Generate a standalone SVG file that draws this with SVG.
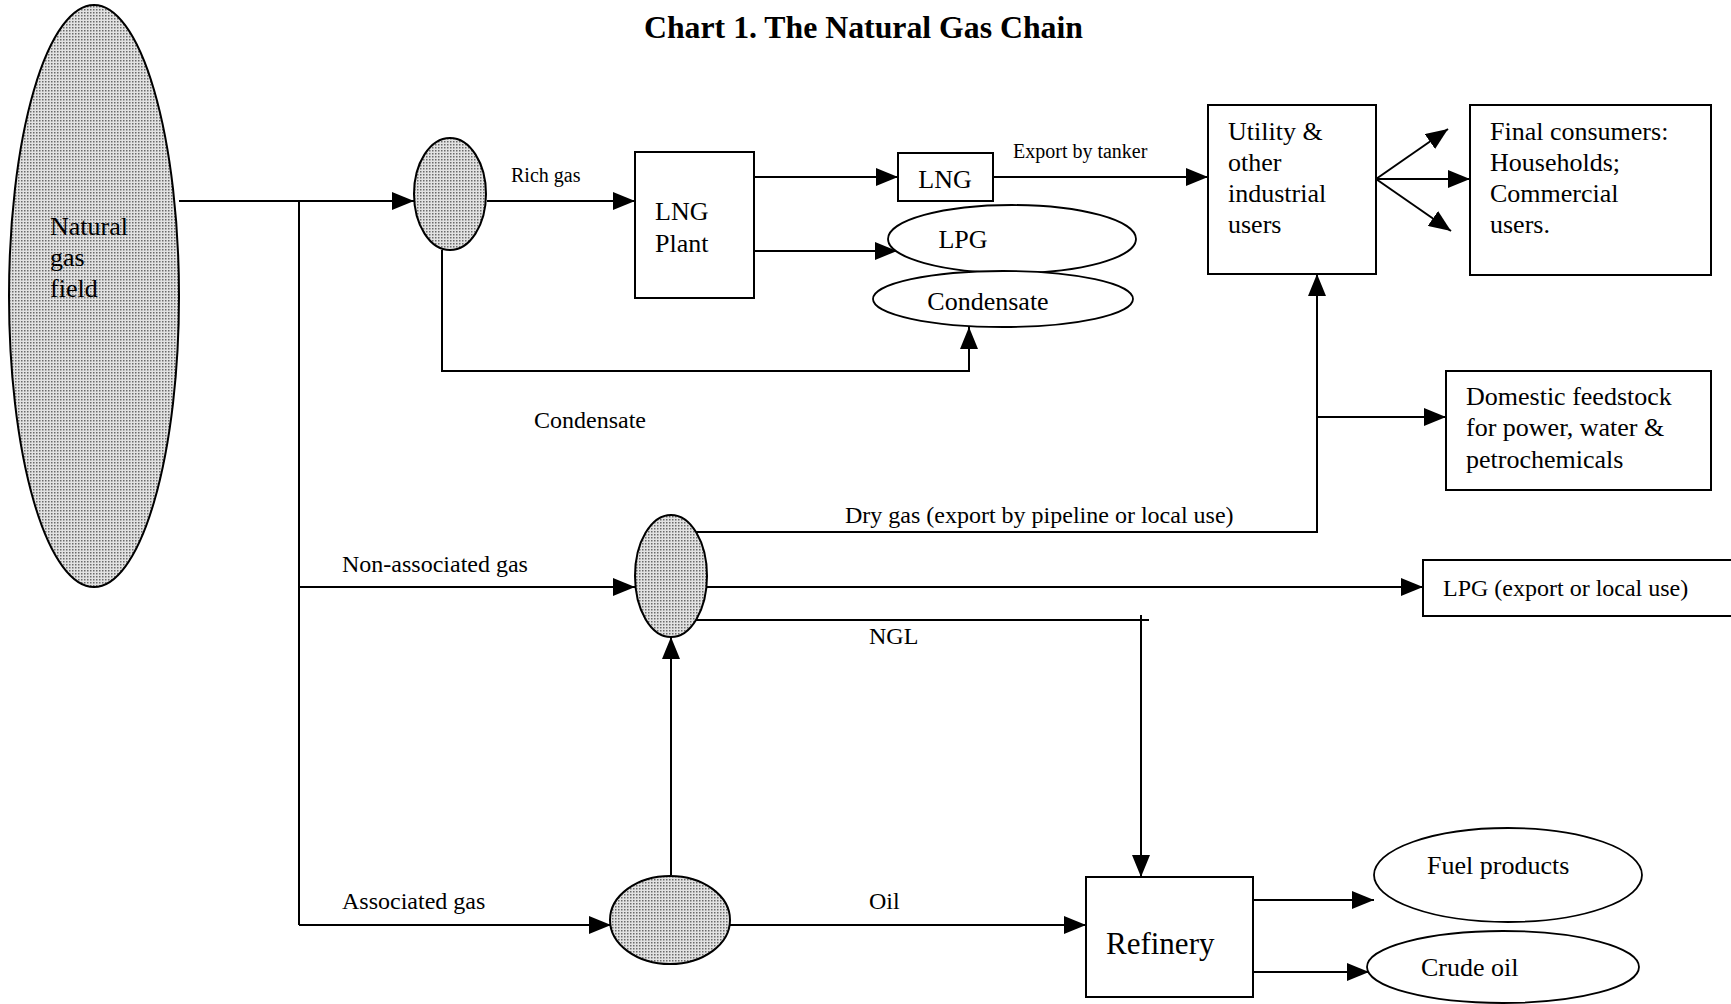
<svg xmlns="http://www.w3.org/2000/svg" width="1731" height="1004" viewBox="0 0 1731 1004">
<style>
text{font-family:"Liberation Serif","Times New Roman",serif;fill:#000}
.t{font-size:26px}
.s{font-size:24px}
.xs{font-size:20px}
.box{fill:#fff;stroke:#000;stroke-width:2}
.ell{fill:#fff;stroke:#000;stroke-width:1.8}
.dot{fill:url(#dots);stroke:#000;stroke-width:2}
.c{fill:none;stroke:#000;stroke-width:2}
</style>
<defs>
<pattern id="dots" width="3" height="3" patternUnits="userSpaceOnUse">
<rect width="3" height="3" fill="#e2e2e2"/>
<rect width="1.5" height="1.5" fill="#6a6a6a"/>
</pattern>
<marker id="ah" markerWidth="22" markerHeight="18" refX="22" refY="9" orient="auto" markerUnits="userSpaceOnUse">
<path d="M0,0 L22,9 L0,18 z" fill="#000"/>
</marker>
</defs>
<rect width="1731" height="1004" fill="#fff"/>
<text x="644" y="38" textLength="439" lengthAdjust="spacingAndGlyphs" style="font-size:31px;font-weight:bold">Chart 1. The Natural Gas Chain</text>

<g id="connectors">
<path class="c" d="M179,201 H414" marker-end="url(#ah)"/>
<path class="c" d="M299,201 V925"/>
<path class="c" d="M487,201 H635" marker-end="url(#ah)"/>
<path class="c" d="M754,177 H898" marker-end="url(#ah)"/>
<path class="c" d="M993,177 H1208" marker-end="url(#ah)"/>
<path class="c" d="M754,251 H897" marker-end="url(#ah)"/>
<path class="c" d="M442,250 V371 H969 V327" marker-end="url(#ah)"/>
<path class="c" d="M1376,179 L1448,129" marker-end="url(#ah)"/>
<path class="c" d="M1376,179 H1470" marker-end="url(#ah)"/>
<path class="c" d="M1376,179 L1451,231" marker-end="url(#ah)"/>
<path class="c" d="M693,532 H1317 V274" marker-end="url(#ah)"/>
<path class="c" d="M1317,417 H1446" marker-end="url(#ah)"/>
<path class="c" d="M299,587 H635" marker-end="url(#ah)"/>
<path class="c" d="M707,587 H1423" marker-end="url(#ah)"/>
<path class="c" d="M687,620 H1149"/>
<path class="c" d="M1141,615 V877" marker-end="url(#ah)"/>
<path class="c" d="M671,875 V637" marker-end="url(#ah)"/>
<path class="c" d="M299,925 H611" marker-end="url(#ah)"/>
<path class="c" d="M730,925 H1086" marker-end="url(#ah)"/>
<path class="c" d="M1253,900 H1374" marker-end="url(#ah)"/>
<path class="c" d="M1253,972 H1369" marker-end="url(#ah)"/>
<text class="xs" x="511" y="182">Rich gas</text>
<text class="xs" x="1013" y="158">Export by tanker</text>
<text class="s" x="534" y="428">Condensate</text>
<text class="s" x="845" y="523">Dry gas (export by pipeline or local use)</text>
<text class="s" x="342" y="572">Non-associated gas</text>
<text class="s" x="869" y="644">NGL</text>
<text class="s" x="342" y="909">Associated gas</text>
<text class="s" x="869" y="909">Oil</text>
</g>

<g id="field">
<ellipse class="dot" cx="94" cy="296" rx="85" ry="291"/>
<text class="t" x="50" y="235">Natural</text>
<text class="t" x="50" y="266">gas</text>
<text class="t" x="50" y="297">field</text>
</g>
<g id="sep1"><ellipse class="dot" cx="450" cy="194" rx="36" ry="56"/></g>
<g id="lngplant">
<rect class="box" x="635" y="152" width="119" height="146"/>
<text class="t" x="655" y="220">LNG</text>
<text class="t" x="655" y="252">Plant</text>
</g>
<g id="lng">
<rect class="box" x="898" y="153" width="95" height="48"/>
<text class="t" x="945" y="188" text-anchor="middle">LNG</text>
</g>
<g id="lpg1">
<ellipse class="ell" cx="1012" cy="239" rx="124" ry="34"/>
<text class="t" x="963" y="248" text-anchor="middle">LPG</text>
</g>
<g id="condensate">
<ellipse class="ell" cx="1003" cy="299" rx="130" ry="28"/>
<text class="t" x="988" y="310" text-anchor="middle">Condensate</text>
</g>
<g id="utility">
<rect class="box" x="1208" y="105" width="168" height="169"/>
<text class="t" x="1228" y="140">Utility &amp;</text>
<text class="t" x="1228" y="171">other</text>
<text class="t" x="1228" y="202">industrial</text>
<text class="t" x="1228" y="233">users</text>
</g>
<g id="final">
<rect class="box" x="1470" y="105" width="241" height="170"/>
<text class="t" x="1490" y="140">Final consumers:</text>
<text class="t" x="1490" y="171">Households;</text>
<text class="t" x="1490" y="202">Commercial</text>
<text class="t" x="1490" y="233">users.</text>
</g>
<g id="domestic">
<rect class="box" x="1446" y="371" width="265" height="119"/>
<text class="t" x="1466" y="405">Domestic feedstock</text>
<text class="t" x="1466" y="436">for power, water &amp;</text>
<text class="t" x="1466" y="468">petrochemicals</text>
</g>
<g id="sep2"><ellipse class="dot" cx="671" cy="576" rx="36" ry="61"/></g>
<g id="lpg2">
<rect class="box" x="1423" y="560" width="330" height="56"/>
<text class="s" x="1443" y="596">LPG (export or local use)</text>
</g>
<g id="sep3"><ellipse class="dot" cx="670" cy="920" rx="60" ry="44"/></g>
<g id="refinery">
<rect class="box" x="1086" y="877" width="167" height="120"/>
<text x="1106" y="954" style="font-size:31px">Refinery</text>
</g>
<g id="fuel">
<ellipse class="ell" cx="1508" cy="875" rx="134" ry="47"/>
<text class="t" x="1427" y="874">Fuel products</text>
</g>
<g id="crude">
<ellipse class="ell" cx="1503" cy="967" rx="136" ry="36"/>
<text class="t" x="1421" y="976">Crude oil</text>
</g>
</svg>
